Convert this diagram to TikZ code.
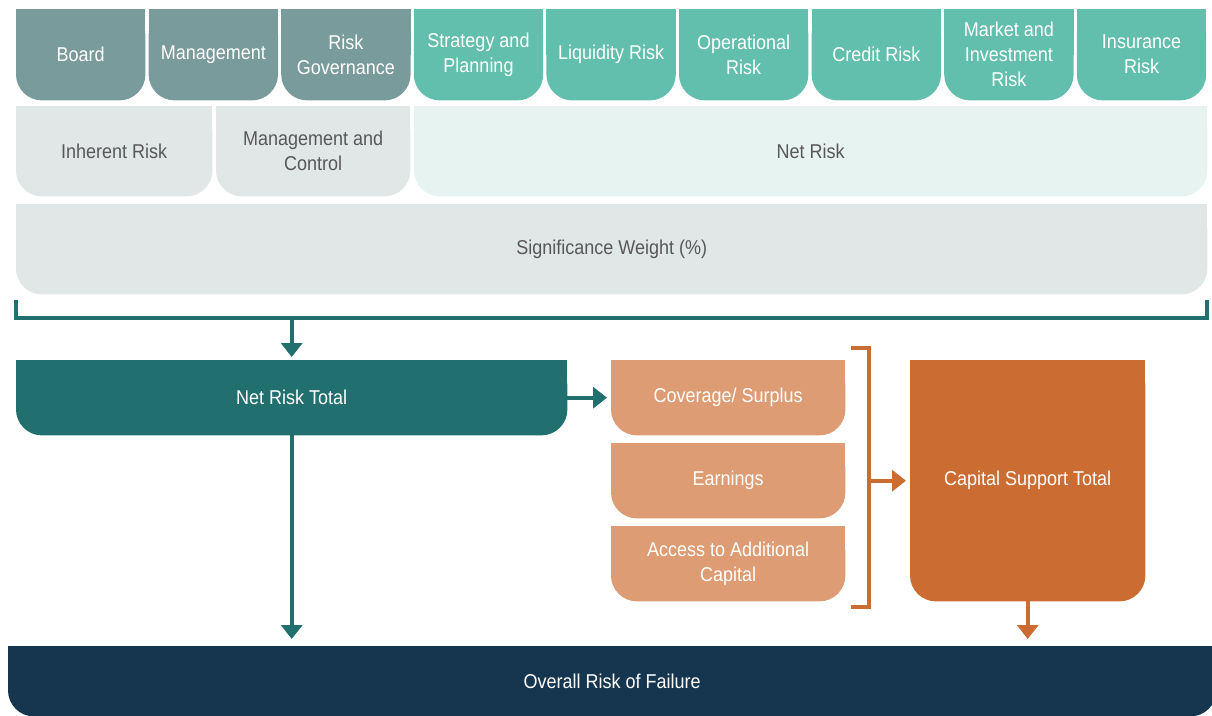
\documentclass[tikz,border=0pt]{standalone}
\usepackage{fontspec}
\setmainfont{Liberation Sans}[FakeStretch=0.9]
\usetikzlibrary{arrows.meta, backgrounds}
\definecolor{govgrey}{HTML}{7A9B9C}
\definecolor{riskteal}{HTML}{62BFAD}
\definecolor{palegrey}{HTML}{E1E6E6}
\definecolor{paleteal}{HTML}{E7F3F0}
\definecolor{darkteal}{HTML}{21706F}
\definecolor{lightorange}{HTML}{DD9C73}
\definecolor{deeporange}{HTML}{CB6D33}
\definecolor{navy}{HTML}{16354F}
\definecolor{txtgrey}{HTML}{585858}
\tikzset{
  blk/.style   = {inner sep=0pt, align=center, anchor=north west,
                  font=\fontsize{20}{25}\selectfont},
  top/.style   = {blk, text=white, minimum width=129pt, minimum height=91pt},
  mid/.style   = {blk, text=txtgrey, minimum height=90pt},
  flow/.style  = {-{Triangle[length=14pt, width=21pt]}, line width=4pt},
  bracket/.style = {line width=4pt},
}
% fill a node's outline: square top, rounded bottom
\newcommand\squarefill[2]{%
  \fill[#2, rounded corners=26pt] (#1.north west) rectangle (#1.south east);
  \fill[#2] (#1.north west) rectangle (#1.east);}

\begin{document}
\begin{tikzpicture}[x=1pt, y=-1pt]
    \useasboundingbox (0,0) rectangle (1212,715);

    % risk categories
    \foreach \name/\txt [count=\i from 0] in {board/Board, mgmt/Management,
        riskgov/{Risk\\Governance}, strategy/{Strategy and\\Planning},
        liquidity/{Liquidity Risk}, operational/{Operational\\Risk},
        credit/{Credit Risk}, market/{Market and\\Investment\\Risk},
        insurance/{Insurance\\Risk}}
      \node[top] (\name) at ({16+132.6*\i},9) {\txt};

    \node[mid, minimum width=196pt] (inherent) at (16,106) {Inherent Risk};
    \node[mid, minimum width=194pt] (mgmtctrl) at (216,106) {Management and\\Control};
    \node[mid, minimum width=793pt] (netrisk) at (414,106) {Net Risk};
    \node[mid, minimum width=1191pt] (sigweight) at (16,204) {Significance Weight (\%)};

    \draw[bracket, darkteal] ([yshift=-6pt]sigweight.south west)
      -- ([yshift=-24pt]sigweight.south west) coordinate (bkl)
      -- ([yshift=-24pt]sigweight.south east)
      -- ([yshift=-6pt]sigweight.south east);

    \node[blk, text=white, minimum width=551pt, minimum height=75pt] (nettotal)
      at (16,360) {Net Risk Total};
    \draw[flow, darkteal, shorten >=3pt] (bkl -| nettotal) -- (nettotal.north);

    % capital support
    \node[blk, text=white, minimum width=234pt, minimum height=75pt] (coverage)
      at (611,360) {Coverage/ Surplus};
    \node[blk, text=white, minimum width=234pt, minimum height=75pt] (earnings)
      at (611,443) {Earnings};
    \node[blk, text=white, minimum width=234pt, minimum height=75pt] (access)
      at (611,526) {Access to Additional\\Capital};
    \node[blk, text=white, minimum width=235pt, minimum height=241pt] (captotal)
      at (910,360) {Capital Support Total};

    \draw[flow, darkteal, shorten >=4pt] (nettotal.east) -- (coverage.west);

    \draw[bracket, deeporange] ([xshift=6pt, yshift=12pt]coverage.north east)
      -- ++(18,0) -- ++(0,259) coordinate[pos=0.5] (obk) -- ++(-18,0);
    \draw[flow, deeporange, shorten >=4pt] (obk |- captotal.west) -- (captotal.west);

    \node[blk, text=white, minimum width=1208pt, minimum height=70pt] (overall)
      at (8,646) {Overall Risk of Failure};
    \draw[flow, darkteal, shorten >=7pt] (nettotal.south) -- (nettotal.south |- overall.north);
    \draw[flow, deeporange, shorten >=7pt] (captotal.south) -- (captotal.south |- overall.north);

    \begin{scope}[on background layer]
      \foreach \n/\c in {board/govgrey, mgmt/govgrey, riskgov/govgrey,
          strategy/riskteal, liquidity/riskteal, operational/riskteal,
          credit/riskteal, market/riskteal, insurance/riskteal,
          inherent/palegrey, mgmtctrl/palegrey, netrisk/paleteal,
          sigweight/palegrey, nettotal/darkteal, coverage/lightorange,
          earnings/lightorange, access/lightorange, captotal/deeporange,
          overall/navy}
        {\squarefill{\n}{\c}}
    \end{scope}
  \end{tikzpicture}
\end{document}
